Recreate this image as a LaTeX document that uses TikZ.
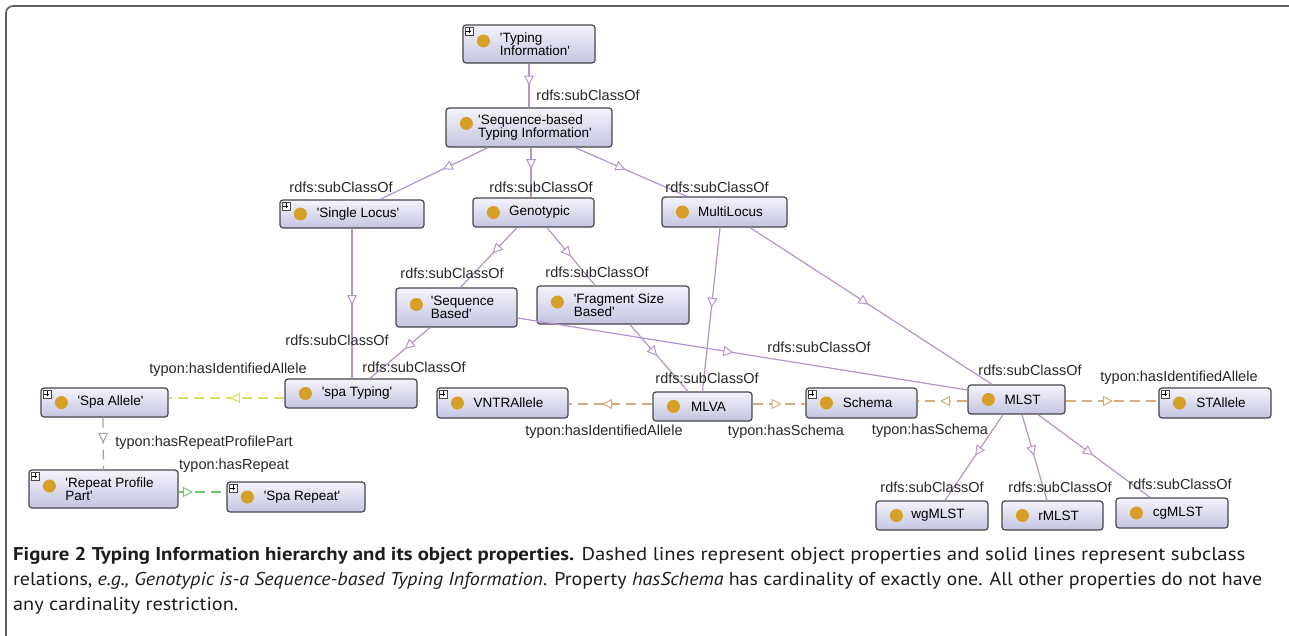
\documentclass[tikz,border=0pt]{standalone}
\usepackage{fontspec}
\setmainfont{Liberation Sans}[Ligatures=TeXOff]
\newfontfamily\capfont{PT Sans}
\usepackage{graphicx}
\usetikzlibrary{arrows.meta,decorations.markings,calc}
\definecolor{subc}{RGB}{183,146,208}
\definecolor{ycol}{RGB}{228,218,90}
\definecolor{gcol}{RGB}{165,165,165}
\definecolor{grcol}{RGB}{110,200,110}
\definecolor{tcol}{RGB}{215,172,122}
\definecolor{boxtop}{RGB}{244,244,252}
\definecolor{boxbot}{RGB}{196,196,224}
\definecolor{boxbd}{RGB}{70,70,74}
\definecolor{goldc}{RGB}{214,160,40}
\definecolor{labc}{RGB}{40,40,40}
\definecolor{framec}{RGB}{95,95,95}
\definecolor{captc}{RGB}{30,28,30}
\tikzset{
  cls/.style={draw=boxbd, line width=1.2pt, rounded corners=3pt, top color=boxtop, bottom color=boxbot, inner sep=0pt},
  ntext/.style={font=\fontsize{13.5}{13.5}\selectfont, align=left, inner sep=0pt, text=black},
  elab/.style={font=\fontsize{14.5}{16}\selectfont, inner sep=0pt, text=labc},
  capt/.style={font=\capfont\fontsize{18.5}{22}\selectfont, inner sep=0pt, text=captc},
  sub/.style={draw=subc, line width=1.2pt, postaction={decorate, decoration={markings, mark=at position #1 with {\arrow{Triangle[width=10pt,length=10pt,color=subc,fill=white,line width=1pt]}}}}},
  prop/.style 2 args={draw=#1, line width=1.3pt, dash pattern=on 10pt off 6pt, postaction={decorate, decoration={markings, mark=at position #2 with {\arrow{Triangle[width=10pt,length=10pt,color=#1,fill=white,line width=1pt]}}}}},
}
% #1 name, #2 x1, #3 y1, #4 x2, #5 y2, #6 text, #7 plus, #8 circle dy
\newcommand\classnode[8]{%
  \node[cls, minimum width={(#4-#2)*1pt}, minimum height={(#5-#3)*1pt}] (#1) at ({(#2+#4)/2},{(#3+#5)/2}) {};
  \node[ntext] (#1-t) at ({(#2+#4)/2+6},{(#3+#5)/2}) {#6};
  \fill[goldc] ($(#1.west)+(21,#8)$) circle (6.5pt);
  \ifnum#7=1
    \draw[boxbd, fill=white, line width=0.5pt] ($(#1.north west)+(2.5,2.5)$) rectangle ++(8,8);
    \draw[black, line width=0.8pt] ($(#1.north west)+(4,6.5)$) -- ++(5,0) ($(#1.north west)+(6.5,4)$) -- ++(0,5);
  \fi
}
\begin{document}
\begin{tikzpicture}[x=1pt,y=-1pt]
\useasboundingbox (0,0) rectangle (1289,635);
\fill[white] (0,0) rectangle (1289,635);
\draw[framec, line width=1.6pt, rounded corners=7pt] (6,645) -- (6,6) -- (1295,6);

\classnode{ti}{463}{25}{595}{63}{'Typing\\Information'}{1}{-3}
\classnode{sbti}{446}{108}{612}{147}{'Sequence-based\\Typing Information'}{0}{-4}
\classnode{sl}{280}{200}{424}{228}{'Single Locus'}{1}{0}
\classnode{gen}{473}{198}{594}{227}{Genotypic}{0}{0}
\classnode{ml}{662}{197}{787}{227}{MultiLocus}{0}{0}
\classnode{sqb}{396}{288}{517}{327}{'Sequence\\Based'}{0}{-3}
\classnode{fsb}{537}{286}{689}{324}{'Fragment Size\\Based'}{0}{-3}
\classnode{spt}{285}{379}{417}{408}{'spa Typing'}{0}{0}
\classnode{spa}{41}{388}{168}{417}{'Spa Allele'}{1}{0}
\classnode{vntr}{437}{388}{568}{418}{VNTRAllele}{1}{0}
\classnode{mlva}{653}{392}{752}{421}{MLVA}{0}{0}
\classnode{sch}{806}{388}{917}{418}{Schema}{1}{0}
\classnode{mlst}{968}{385}{1065}{414}{MLST}{0}{0}
\classnode{sta}{1159}{388}{1271}{418}{STAllele}{1}{0}
\classnode{rpp}{29}{470}{178}{508}{'Repeat Profile\\Part'}{1}{-3}
\classnode{spr}{227}{482}{365}{512}{'Spa Repeat'}{1}{0}
\classnode{wg}{876}{501}{988}{530}{wgMLST}{0}{0}
\classnode{rm}{1002}{501}{1103}{530}{rMLST}{0}{0}
\classnode{cg}{1116}{498}{1228}{528}{cgMLST}{0}{0}

% subclass edges
\draw[sub=0.5] (ti.south) -- (ti.south |- sbti.north);
\draw[sub=0.42] ($(sbti.south)+(-41,0)$) -- ($(sl.north)+(28,0)$);
\draw[sub=0.43] ($(sbti.south)+(2,0)$) -- ($(gen.north)+(-2.5,0)$);
\draw[sub=0.45] ($(sbti.south)+(46,0)$) -- ($(ml.north)+(-37.5,0)$);
\draw[sub=0.43] ($(gen.south)+(-16.5,0)$) -- ($(sqb.north)+(4,0)$);
\draw[sub=0.5] ($(gen.south)+(13.5,0)$) -- ($(fsb.north)+(-18,0)$);
\draw[sub=0.51] (sl.south) -- (sl.south |- spt.north);
\draw[sub=0.42] ($(sqb.south)+(-26.5,0)$) -- ($(spt.north)+(19,0)$);
\draw[sub=0.48] ($(sqb.east)+(0,10.5)$) -- ($(mlst.west)+(0,-9.5)$);
\draw[sub=0.47] ($(fsb.south)+(17,0)$) -- ($(mlva.north)+(-14.5,0)$);
\draw[sub=0.49] ($(ml.south)+(-4.5,0)$) -- (mlva.north);
\draw[sub=0.49] ($(ml.south)+(25.5,0)$) -- ($(mlst.north)+(-24.5,0)$);
\draw[sub=0.48] ($(mlst.south)+(-13.5,0)$) -- ($(wg.north)+(13,0)$);
\draw[sub=0.48] ($(mlst.south)+(5.5,0)$) -- ($(rm.north)+(-5.5,0)$);
\draw[sub=0.49] ($(mlst.south)+(21.5,0)$) -- ($(cg.north)+(-22,0)$);

% object property edges
\draw[prop={ycol}{0.47}] ($(spt.west)+(0,4.5)$) -- ($(spa.east)+(0,-4.5)$);
\draw[prop={gcol}{0.49}] ($(spa.south)+(-1.5,0)$) -- (rpp.north);
\draw[prop={grcol}{0.3}] ($(rpp.east)+(0,3)$) -- ($(spr.west)+(0,-5)$);
\draw[prop={tcol}{0.6}] ($(mlva.west)+(0,-2.5)$) -- ($(vntr.east)+(0,1)$);
\draw[prop={tcol}{0.55}] ($(mlva.east)+(0,-2.5)$) -- ($(sch.west)+(0,1)$);
\draw[prop={tcol}{0.55}] ($(mlst.west)+(0,1.5)$) -- ($(sch.east)+(0,-2)$);
\draw[prop={tcol}{0.51}] ($(mlst.east)+(0,1.5)$) -- ($(sta.west)+(0,-2)$);

% labels
\node[elab] (l1) at (588,95) {rdfs:subClassOf};
\node[elab] (l2) at (341,187) {rdfs:subClassOf};
\node[elab] (l3) at (541,187) {rdfs:subClassOf};
\node[elab] (l4) at (717,187) {rdfs:subClassOf};
\node[elab] (l5) at (452,273) {rdfs:subClassOf};
\node[elab] (l6) at (597,272) {rdfs:subClassOf};
\node[elab] (l7) at (337,340) {rdfs:subClassOf};
\node[elab] (l8) at (414,367) {rdfs:subClassOf};
\node[elab] (l9) at (819,347) {rdfs:subClassOf};
\node[elab] (l10) at (707,378) {rdfs:subClassOf};
\node[elab] (l11) at (1030,370) {rdfs:subClassOf};
\node[elab] (l12) at (932,487) {rdfs:subClassOf};
\node[elab] (l13) at (1060,487) {rdfs:subClassOf};
\node[elab] (l14) at (1180,484) {rdfs:subClassOf};
\node[elab] (p1) at (228,370) {typon:hasIdentifiedAllele};
\node[elab] (p2) at (204,443) {typon:hasRepeatProfilePart};
\node[elab] (p3) at (234,466) {typon:hasRepeat};
\node[elab] (p4) at (604,432) {typon:hasIdentifiedAllele};
\node[elab] (p5) at (786,432) {typon:hasSchema};
\node[elab] (p6) at (930,431) {typon:hasSchema};
\node[elab] (p7) at (1179,378) {typon:hasIdentifiedAllele};

% caption
\node[capt, anchor=base west] (cap1) at (13,560) {\resizebox{1232pt}{\height}{{\bfseries Figure 2 Typing Information hierarchy and its object properties.} Dashed lines represent object properties and solid lines represent subclass}};
\node[capt, anchor=base west] (cap2) at (13,585) {\resizebox{1249pt}{\height}{relations, \textit{e.g., Genotypic is-a Sequence-based Typing Information}. Property \textit{hasSchema} has cardinality of exactly one. All other properties do not have}};
\node[capt, anchor=base west] (cap3) at (13,610) {\resizebox{225pt}{\height}{any cardinality restriction.}};
\end{tikzpicture}
\end{document}
